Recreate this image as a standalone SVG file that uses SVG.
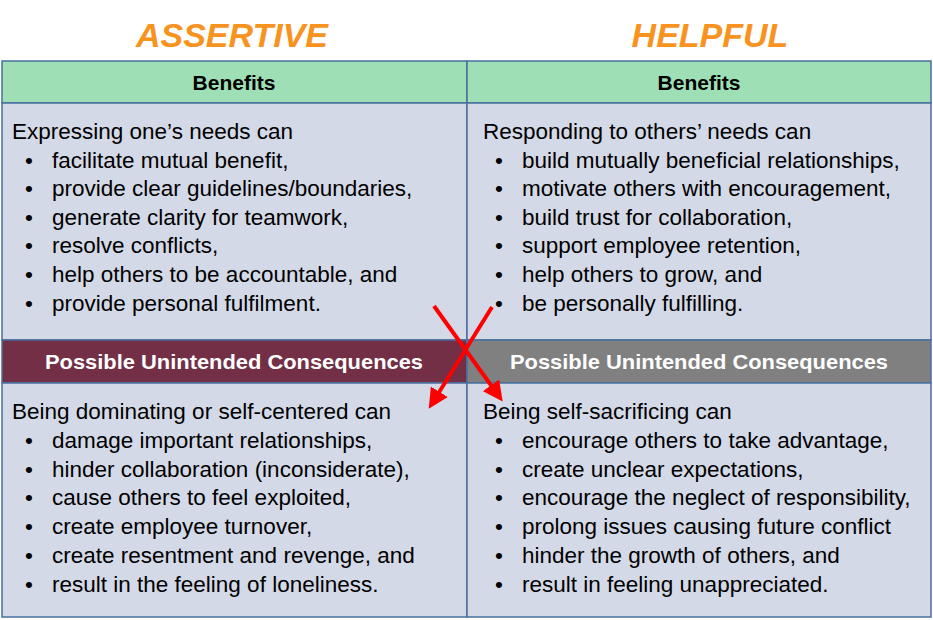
<svg xmlns="http://www.w3.org/2000/svg" width="933" height="620" viewBox="0 0 933 620" xml:space="preserve">
<defs>
<style>
.t{font-family:"Liberation Sans",Arial,sans-serif;font-size:22.5px;fill:#000}
.h{font-family:"Liberation Sans",Arial,sans-serif;font-size:21px;font-weight:bold;text-anchor:middle}
.ti{font-family:"Liberation Sans",Arial,sans-serif;font-size:34px;font-weight:bold;font-style:italic;fill:#f7931e;text-anchor:middle}
.c{fill:#d4d9e7;stroke:#4a6f9f;stroke-width:1.5}
.ar{stroke:#ff0000;stroke-width:4;fill:none}
</style>
<marker id="ah" markerWidth="5" markerHeight="5" refX="3" refY="2.5" orient="auto"><path d="M0,0 L5,2.5 L0,5 Z" fill="#ff0000"/></marker>
</defs>
<rect width="933" height="620" fill="#fff"/>
<text class="ti" x="232" y="47">ASSERTIVE</text>
<text class="ti" x="710" y="47">HELPFUL</text>
<g id="ben-l"><rect class="c" x="2" y="61" width="465" height="42" style="fill:#9fdfb5"/><text class="h" x="234" y="90">Benefits</text></g>
<g id="ben-r"><rect class="c" x="467" y="61" width="464" height="42" style="fill:#9fdfb5"/><text class="h" x="699" y="90">Benefits</text></g>
<g id="body-tl"><rect class="c" x="2" y="103" width="465" height="237"/>
<text class="t" x="12" y="139">Expressing one’s needs can</text>
<text class="t" x="25" y="168">•</text><text class="t" x="25" y="196">•</text><text class="t" x="25" y="225">•</text><text class="t" x="25" y="253">•</text><text class="t" x="25" y="282">•</text><text class="t" x="25" y="311">•</text>
<text class="t" x="52" y="168">facilitate mutual benefit,</text>
<text class="t" x="52" y="196">provide clear guidelines/boundaries,</text>
<text class="t" x="52" y="225"> generate clarity for teamwork,</text>
<text class="t" x="52" y="253">resolve conflicts,</text>
<text class="t" x="52" y="282">help others to be accountable, and</text>
<text class="t" x="52" y="311">provide personal fulfilment.</text></g>
<g id="body-tr"><rect class="c" x="467" y="103" width="464" height="237"/>
<text class="t" x="483" y="139">Responding to others’ needs can</text>
<text class="t" x="495" y="168">•</text><text class="t" x="495" y="196">•</text><text class="t" x="495" y="225">•</text><text class="t" x="495" y="253">•</text><text class="t" x="495" y="282">•</text><text class="t" x="495" y="311">•</text>
<text class="t" x="522" y="168">build mutually beneficial relationships,</text>
<text class="t" x="522" y="196">motivate others with encouragement,</text>
<text class="t" x="522" y="225"> build trust for collaboration,</text>
<text class="t" x="522" y="253">support employee retention,</text>
<text class="t" x="522" y="282">help others to grow, and</text>
<text class="t" x="522" y="311">be personally fulfilling.</text></g>
<g id="con-l"><rect class="c" x="2" y="340" width="465" height="43" style="fill:#722f46"/><text class="h" x="234" y="369" fill="#fff" textLength="378" lengthAdjust="spacingAndGlyphs">Possible Unintended Consequences</text></g>
<g id="con-r"><rect class="c" x="467" y="340" width="464" height="43" style="fill:#808080"/><text class="h" x="699" y="369" fill="#fff" textLength="378" lengthAdjust="spacingAndGlyphs">Possible Unintended Consequences</text></g>
<g id="body-bl"><rect class="c" x="2" y="383" width="465" height="234"/>
<text class="t" x="12" y="419">Being dominating or self-centered can</text>
<text class="t" x="25" y="448">•</text><text class="t" x="25" y="477">•</text><text class="t" x="25" y="505">•</text><text class="t" x="25" y="534">•</text><text class="t" x="25" y="563">•</text><text class="t" x="25" y="592">•</text>
<text class="t" x="52" y="448">damage important relationships,</text>
<text class="t" x="52" y="477">hinder collaboration (inconsiderate),</text>
<text class="t" x="52" y="505">cause others to feel exploited,</text>
<text class="t" x="52" y="534">create employee turnover,</text>
<text class="t" x="52" y="563">create resentment and revenge, and</text>
<text class="t" x="52" y="592">result in the feeling of loneliness.</text></g>
<g id="body-br"><rect class="c" x="467" y="383" width="464" height="234"/>
<text class="t" x="483" y="419">Being self-sacrificing can</text>
<text class="t" x="495" y="448">•</text><text class="t" x="495" y="477">•</text><text class="t" x="495" y="505">•</text><text class="t" x="495" y="534">•</text><text class="t" x="495" y="563">•</text><text class="t" x="495" y="592">•</text>
<text class="t" x="522" y="448">encourage others to take advantage,</text>
<text class="t" x="522" y="477">create unclear expectations,</text>
<text class="t" x="522" y="505">encourage the neglect of responsibility,</text>
<text class="t" x="522" y="534">prolong issues causing future conflict</text>
<text class="t" x="522" y="563">hinder the growth of others, and</text>
<text class="t" x="522" y="592">result in feeling unappreciated.</text></g>
<g id="connectors">
<line class="ar" x1="434" y1="306" x2="498" y2="395" marker-end="url(#ah)"/>
<line class="ar" x1="492" y1="307" x2="433" y2="402" marker-end="url(#ah)"/>
</g>
</svg>
